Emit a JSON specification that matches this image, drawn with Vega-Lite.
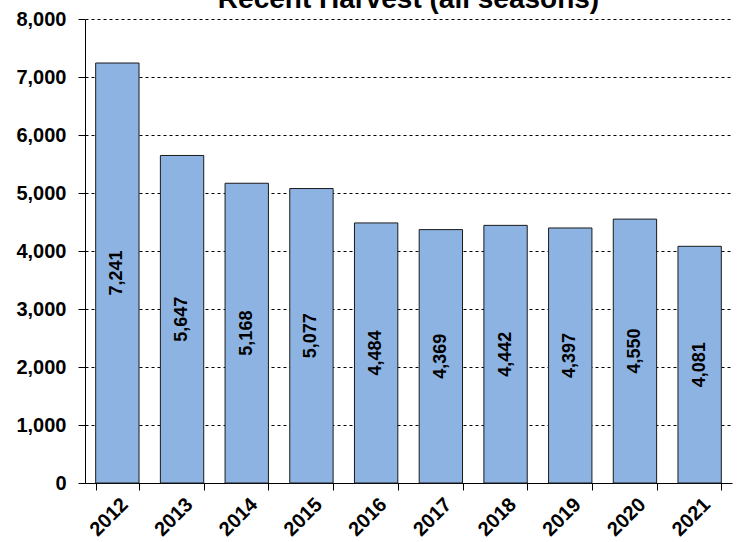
{
  "$schema": "https://vega.github.io/schema/vega-lite/v6.json",
  "width": 647,
  "height": 464,
  "autosize": {"type": "none"},
  "padding": {"left": 85, "top": 19, "right": 8, "bottom": 59},
  "background": "white",
  "title": {
    "text": "Recent Harvest (all seasons)",
    "font": "Liberation Sans",
    "fontSize": 28,
    "fontWeight": "bold",
    "color": "black",
    "offset": -5
  },
  "data": {
    "values": [
      {"year": "2012", "harvest": 7241},
      {"year": "2013", "harvest": 5647},
      {"year": "2014", "harvest": 5168},
      {"year": "2015", "harvest": 5077},
      {"year": "2016", "harvest": 4484},
      {"year": "2017", "harvest": 4369},
      {"year": "2018", "harvest": 4442},
      {"year": "2019", "harvest": 4397},
      {"year": "2020", "harvest": 4550},
      {"year": "2021", "harvest": 4081}
    ]
  },
  "resolve": {"scale": {"y": "independent"}, "axis": {"y": "independent"}},
  "layer": [
    {
      "mark": {"type": "bar", "fill": "#8DB3E2", "stroke": "#1a1a1a", "strokeWidth": 1},
      "encoding": {
        "x": {
          "field": "year",
          "type": "ordinal",
          "scale": {"paddingInner": 0.33, "paddingOuter": 0.165},
          "axis": {
            "title": null,
            "labelAngle": -45,
            "labelAlign": "right",
            "labelBaseline": "top",
            "labelFont": "Liberation Sans",
            "labelFontSize": 20,
            "labelFontWeight": "bold",
            "labelColor": "black",
            "labelPadding": 4,
            "domainColor": "black",
            "domainWidth": 1,
            "tickColor": "black",
            "tickSize": 7,
            "tickBand": "extent",
            "grid": false
          }
        },
        "y": {
          "field": "harvest",
          "type": "quantitative",
          "scale": {"domain": [0, 8000], "nice": false},
          "axis": {
            "title": null,
            "values": [0, 1000, 2000, 3000, 4000, 5000, 6000, 7000, 8000],
            "format": ",.0f",
            "labelFont": "Liberation Sans",
            "labelFontSize": 20,
            "labelFontWeight": "bold",
            "labelColor": "black",
            "labelPadding": 12,
            "domainColor": "black",
            "tickColor": "black",
            "tickSize": 7,
            "grid": true,
            "gridColor": "black",
            "gridDash": [3, 3],
            "gridOpacity": 1,
            "gridWidth": 1
          }
        }
      }
    },
    {
      "mark": {
        "type": "text",
        "angle": -90,
        "align": "center",
        "baseline": "middle",
        "font": "Liberation Sans",
        "fontSize": 18,
        "fontWeight": "bold",
        "color": "black"
      },
      "encoding": {
        "x": {"field": "year", "type": "ordinal"},
        "y": {
          "field": "harvest",
          "type": "quantitative",
          "scale": {"domain": [0, 16000], "nice": false},
          "axis": null
        },
        "text": {"field": "harvest", "type": "quantitative", "format": ",.0f"}
      }
    }
  ],
  "config": {"view": {"stroke": null}}
}
